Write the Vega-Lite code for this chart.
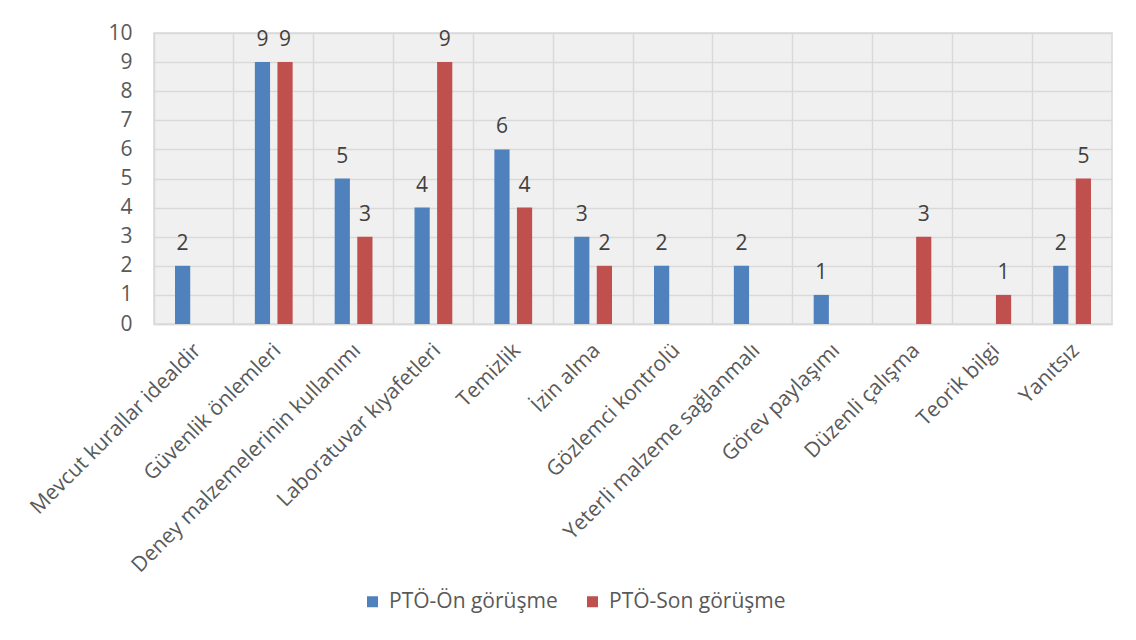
{
  "$schema": "https://vega.github.io/schema/vega-lite/v6.json",
  "autosize": "none",
  "width": 958,
  "height": 291,
  "padding": {"left": 154, "top": 33, "right": 24, "bottom": 316},
  "background": "white",
  "config": {
    "font": "Open Sans",
    "view": {"fill": "#f0f0f0", "stroke": "#d9d9d9", "strokeWidth": 1.5}
  },
  "data": {
    "values": [
      {"kategori": "Mevcut kurallar idealdir", "seri": "PTÖ-Ön görüşme", "deger": 2},
      {"kategori": "Güvenlik önlemleri", "seri": "PTÖ-Ön görüşme", "deger": 9},
      {"kategori": "Güvenlik önlemleri", "seri": "PTÖ-Son görüşme", "deger": 9},
      {"kategori": "Deney malzemelerinin kullanımı", "seri": "PTÖ-Ön görüşme", "deger": 5},
      {"kategori": "Deney malzemelerinin kullanımı", "seri": "PTÖ-Son görüşme", "deger": 3},
      {"kategori": "Laboratuvar kıyafetleri", "seri": "PTÖ-Ön görüşme", "deger": 4},
      {"kategori": "Laboratuvar kıyafetleri", "seri": "PTÖ-Son görüşme", "deger": 9},
      {"kategori": "Temizlik", "seri": "PTÖ-Ön görüşme", "deger": 6},
      {"kategori": "Temizlik", "seri": "PTÖ-Son görüşme", "deger": 4},
      {"kategori": "İzin alma", "seri": "PTÖ-Ön görüşme", "deger": 3},
      {"kategori": "İzin alma", "seri": "PTÖ-Son görüşme", "deger": 2},
      {"kategori": "Gözlemci kontrolü", "seri": "PTÖ-Ön görüşme", "deger": 2},
      {"kategori": "Yeterli malzeme sağlanmalı", "seri": "PTÖ-Ön görüşme", "deger": 2},
      {"kategori": "Görev paylaşımı", "seri": "PTÖ-Ön görüşme", "deger": 1},
      {"kategori": "Düzenli çalışma", "seri": "PTÖ-Son görüşme", "deger": 3},
      {"kategori": "Teorik bilgi", "seri": "PTÖ-Son görüşme", "deger": 1},
      {"kategori": "Yanıtsız", "seri": "PTÖ-Ön görüşme", "deger": 2},
      {"kategori": "Yanıtsız", "seri": "PTÖ-Son görüşme", "deger": 5}
    ]
  },
  "encoding": {
    "x": {
      "field": "kategori",
      "type": "nominal",
      "sort": ["Mevcut kurallar idealdir", "Güvenlik önlemleri", "Deney malzemelerinin kullanımı", "Laboratuvar kıyafetleri", "Temizlik", "İzin alma", "Gözlemci kontrolü", "Yeterli malzeme sağlanmalı", "Görev paylaşımı", "Düzenli çalışma", "Teorik bilgi", "Yanıtsız"],
      "scale": {"paddingInner": 0, "paddingOuter": 0},
      "axis": {
        "title": null,
        "bandPosition": 0,
        "grid": true,
        "gridColor": "#d9d9d9",
        "gridWidth": 1.5,
        "ticks": false,
        "domain": true,
        "domainColor": "#d9d9d9",
        "domainWidth": 1.5,
        "labelAngle": -45,
        "labelAlign": "right",
        "labelBaseline": "middle",
        "labelOffset": 4,
        "labelPadding": 23,
        "labelFontSize": 21,
        "labelColor": "#595959",
        "labelLimit": 500,
        "labelOverlap": false
      }
    },
    "xOffset": {
      "field": "seri",
      "type": "nominal",
      "scale": {"domain": ["PTÖ-Ön görüşme", "PTÖ-Son görüşme"], "paddingInner": 0.327, "paddingOuter": 0.93}
    },
    "y": {
      "field": "deger",
      "type": "quantitative",
      "scale": {"domain": [0, 10], "nice": false},
      "axis": {
        "title": null,
        "values": [0, 1, 2, 3, 4, 5, 6, 7, 8, 9, 10],
        "tickCount": 11,
        "labelOverlap": false,
        "grid": true,
        "gridColor": "#d9d9d9",
        "gridWidth": 1.5,
        "ticks": false,
        "domain": false,
        "labelPadding": 22,
        "labelFontSize": 21,
        "labelColor": "#595959"
      }
    }
  },
  "layer": [
    {
      "mark": {"type": "bar"},
      "encoding": {
        "color": {
          "field": "seri",
          "type": "nominal",
          "scale": {"domain": ["PTÖ-Ön görüşme", "PTÖ-Son görüşme"], "range": ["#4f81bd", "#c0504d"]},
          "legend": {
            "title": null,
            "orient": "none",
            "legendX": 208,
            "legendY": 558,
            "direction": "horizontal",
            "symbolType": "square",
            "symbolSize": 121,
            "symbolStrokeWidth": 0,
            "labelFontSize": 21,
            "labelColor": "#595959",
            "labelOffset": 6,
            "columnPadding": 24,
            "labelLimit": 400
          }
        }
      }
    },
    {
      "mark": {"type": "text", "baseline": "alphabetic", "dy": -16, "fontSize": 21, "color": "#404040"},
      "encoding": {
        "text": {"field": "deger", "type": "quantitative"}
      }
    }
  ]
}
